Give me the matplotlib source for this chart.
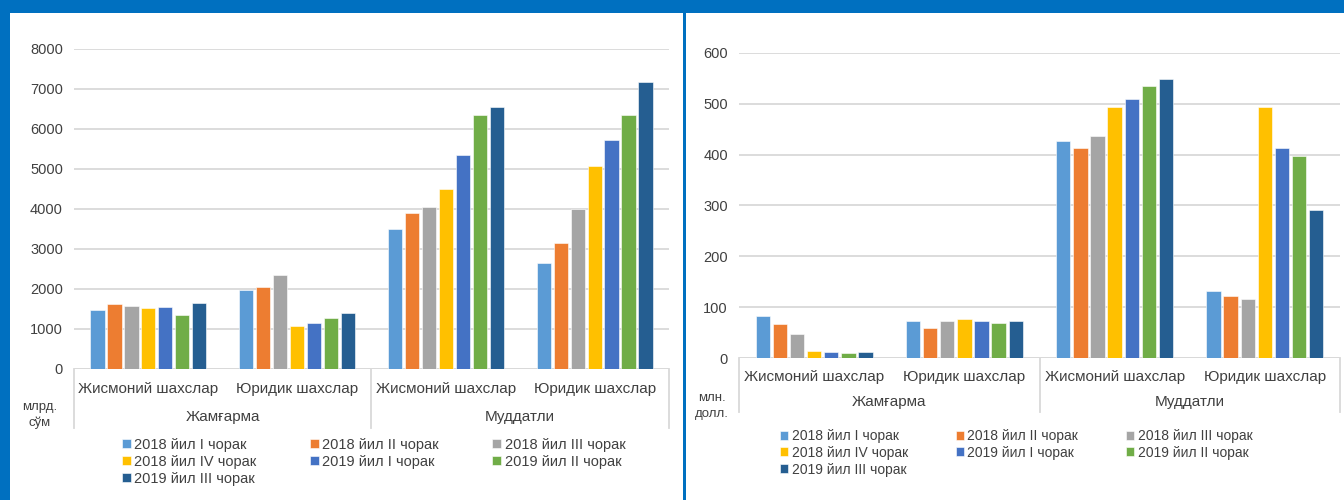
import matplotlib

matplotlib.use("Agg")
import matplotlib.pyplot as plt
from matplotlib.patches import Rectangle
import matplotlib.transforms as mtransforms
import numpy as np

plt.rcParams["font.family"] = ["Liberation Sans", "DejaVu Sans"]

subcats = ["Жисмоний шахслар", "Юридик шахслар", "Жисмоний шахслар", "Юридик шахслар"]
groups = ["Жамғарма", "Муддатли"]
series = [
    "2018 йил I чорак",
    "2018 йил II чорак",
    "2018 йил III чорак",
    "2018 йил IV чорак",
    "2019 йил I чорак",
    "2019 йил II чорак",
    "2019 йил III чорак",
]
colors = ["#5B9BD5", "#ED7D31", "#A5A5A5", "#FFC000", "#4472C4", "#70AD47", "#255E91"]

# billion sum, one row per series, columns follow subcats
uzs = [
    [1480, 1980, 3490, 2650],
    [1630, 2060, 3890, 3160],
    [1580, 2355, 4060, 4000],
    [1515, 1080, 4490, 5070],
    [1540, 1150, 5350, 5730],
    [1340, 1280, 6345, 6345],
    [1650, 1390, 6560, 7165],
]
# million USD
usd = [
    [83, 72, 426, 132],
    [67, 59, 414, 122],
    [47, 72, 437, 117],
    [14, 76, 494, 493],
    [11, 72, 510, 414],
    [10, 68, 535, 398],
    [12, 72, 549, 291],
]

W, H = 1344, 500
fig = plt.figure(figsize=(W / 100, H / 100), dpi=100, facecolor="#0070C0")
fig.patches.append(Rectangle((10 / W, 0), (683 - 10) / W, (H - 13) / H,
                             transform=fig.transFigure, facecolor="white", edgecolor="none", zorder=-5))
fig.patches.append(Rectangle((686 / W, 0), (W - 686) / W, (H - 13) / H,
                             transform=fig.transFigure, facecolor="white", edgecolor="none", zorder=-5))

grid_c = "#D9D9D9"
text_c = "#404040"


def px_axes(x0, x1, y_top, y_bot):
    return fig.add_axes([x0 / W, 1 - y_bot / H, (x1 - x0) / W, (y_bot - y_top) / H])


def draw_panel(ax, data, ymax, step, line_bottom, unit, unit_xy, legend_xy, leg_fs, colsp):
    x = np.arange(len(subcats))
    pitch = 0.114
    for i, vals in enumerate(data):
        ax.bar(x + (i - 3) * pitch, vals, width=pitch * 0.84, color=colors[i],
               edgecolor="white", linewidth=0.4, label=series[i], zorder=3)
    ax.set_xlim(-0.5, 3.5)
    ax.set_ylim(0, ymax)
    ax.set_yticks(np.arange(0, ymax + 1, step))
    ax.set_facecolor("none")
    ax.grid(axis="y", color=grid_c, linewidth=1.3, zorder=0)
    for s in ax.spines.values():
        s.set_visible(False)
    ax.tick_params(axis="both", length=0, labelsize=10.5, labelcolor=text_c)
    ax.tick_params(axis="y", pad=8)
    ax.set_xticks(x)
    ax.set_xticklabels(subcats, fontsize=11)
    ax.tick_params(axis="x", pad=9)
    ax.axhline(0, color=grid_c, linewidth=1.3, zorder=2)

    trans = mtransforms.blended_transform_factory(ax.transData, ax.transAxes)
    for xv in (-0.5, 1.5, 3.5):
        ax.plot([xv, xv], [0, line_bottom], transform=trans, color=grid_c,
                linewidth=1.3, clip_on=False)
    for gi, g in enumerate(groups):
        ax.text(gi * 2 + 0.5, line_bottom * 0.82, g, transform=trans, ha="center",
                va="center", fontsize=11, color=text_c)

    fig.text(unit_xy[0] / W, 1 - unit_xy[1] / H, unit, ha="center", va="center",
             fontsize=9.5, color=text_c, linespacing=1.35)

    handles, labels = ax.get_legend_handles_labels()
    order = [0, 3, 6, 1, 4, 2, 5]
    fig.legend([handles[k] for k in order], [labels[k] for k in order],
               loc="upper left", bbox_to_anchor=(legend_xy[0] / W, 1 - legend_xy[1] / H),
               ncol=3, frameon=False, fontsize=leg_fs, handlelength=0.6, handleheight=0.6,
               handletextpad=0.25, columnspacing=colsp, labelspacing=0.2,
               borderpad=0, borderaxespad=0, labelcolor=text_c)


ax1 = px_axes(74, 669, 49, 369)
draw_panel(ax1, uzs, 8000, 1000, -(428 - 369) / 320, "млрд.\nсўм", (40, 415),
           (122, 438), 10.5, 3.65)

ax2 = px_axes(739, 1340, 53, 358)
draw_panel(ax2, usd, 600, 100, -(412 - 358) / 305, "млн.\nдолл.", (712, 406),
           (780, 429), 10.0, 3.42)

fig.savefig("out.png", dpi=100, facecolor=fig.get_facecolor())
plt.close(fig)
